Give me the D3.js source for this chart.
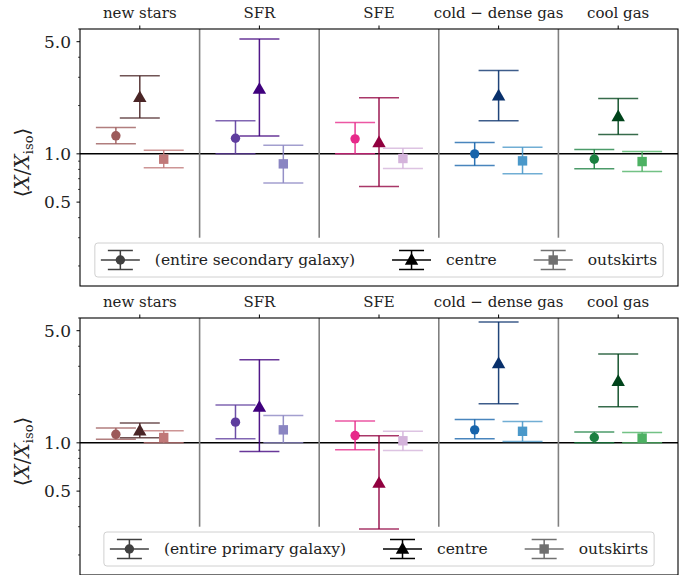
<!DOCTYPE html>
<html>
<head>
<meta charset="utf-8">
<script src="https://cdn.jsdelivr.net/npm/d3@7"></script>
<style>
  body { margin: 0; background: #fff; }
  svg { display: block; }
  text { font-family: "DejaVu Serif", "Liberation Serif", serif; fill: #222; }
</style>
</head>
<body>
<svg id="chart"></svg>
<script>
const width = 691;
const height = 575;

const categories = ['new stars', 'SFR', 'SFE', 'cold \u2212 dense gas', 'cool gas'];
const yTicks = [0.5, 1.0, 5.0];
const yMinor = [0.2, 0.3, 0.4, 0.6, 0.7, 0.8, 0.9, 2, 3, 4, 6];

// [low, value, high] per category -- secondary galaxy (top panel)
const secEntire    = [[1.154, 1.295, 1.46], [1.0, 1.25, 1.61], [1.0, 1.24, 1.57], [0.845, 1.0, 1.177], [0.806, 0.926, 1.064]];
const secCentre    = [[1.67, 2.25, 3.07], [1.29, 2.53, 5.2], [0.625, 1.177, 2.24], [1.61, 2.30, 3.31], [1.32, 1.71, 2.21]];
const secOutskirts = [[0.818, 0.926, 1.054], [0.659, 0.866, 1.13], [0.81, 0.935, 1.085], [0.75, 0.904, 1.10], [0.776, 0.895, 1.034]];

// primary galaxy (bottom panel)
const priEntire    = [[1.054, 1.13, 1.235], [1.06, 1.346, 1.72], [0.905, 1.11, 1.37], [1.06, 1.205, 1.40], [1.0, 1.08, 1.17]];
const priCentre    = [[1.074, 1.19, 1.33], [0.883, 1.67, 3.30], [0.29, 0.561, 1.105], [1.75, 3.12, 5.67], [1.68, 2.42, 3.58]];
const priOutskirts = [[1.0, 1.079, 1.19], [1.0, 1.205, 1.48], [0.895, 1.03, 1.18], [1.02, 1.18, 1.36], [1.0, 1.07, 1.16]];

const entireColors    = ['#9c5a5a', '#5e3c9e', '#e7298a', '#1764ab', '#1a8040'];
const centreColors    = ['#4a2526', '#3f007d', '#91003f', '#08306b', '#00441b'];
const outskirtsColors = ['#c07878', '#8a85c2', '#d4b3db', '#4a98c9', '#4db163'];

const regionNames = ['entire', 'centre', 'outskirts'];
const regionOffset = {entire: -0.2, centre: 0, outskirts: 0.2};
const legendHandleColors = ['#404040', '#000000', '#707070'];

const svg = d3.select('#chart').attr('width', width).attr('height', height);

const left = 80, right = 678, panelH = 257;
const panels = [
  {top: 29, label: '(entire secondary galaxy)', sets: [secEntire, secCentre, secOutskirts]},
  {top: 318, label: '(entire primary galaxy)', sets: [priEntire, priCentre, priOutskirts]}
];
const regionColors = [entireColors, centreColors, outskirtsColors];
const capHalf = 20;

const x = d3.scaleLinear().domain([-0.5, 4.5]).range([left, right]);

function marker(g, shape, cx, cy, color) {
  if (shape === 'entire') {
    g.append('circle').attr('cx', cx).attr('cy', cy).attr('r', 4.7).attr('fill', color);
  } else if (shape === 'centre') {
    g.append('path').attr('d', d3.symbol(d3.symbolTriangle, 78)()).attr('transform', `translate(${cx},${cy + 0.8})`).attr('fill', color);
  } else {
    g.append('rect').attr('x', cx - 4.7).attr('y', cy - 4.7).attr('width', 9.4).attr('height', 9.4).attr('fill', color);
  }
}

panels.forEach(p => {
  const y = d3.scaleLog().domain([0.15, 6.0]).range([p.top + panelH, p.top]);
  const g = svg.append('g');

  // reference line and separators
  g.append('line').attr('x1', left).attr('x2', right).attr('y1', y(1)).attr('y2', y(1))
    .attr('stroke', '#000').attr('stroke-width', 1.5);
  d3.range(4).forEach(i => {
    g.append('line').attr('x1', x(i + 0.5)).attr('x2', x(i + 0.5))
      .attr('y1', y(0.3)).attr('y2', p.top)
      .attr('stroke', '#808080').attr('stroke-width', 1.6);
  });

  // error bars
  p.sets.forEach((set, r) => {
    const name = regionNames[r];
    set.forEach((d, i) => {
      const cx = x(i + regionOffset[name]);
      const col = regionColors[r][i];
      const eb = g.append('g');
      eb.append('line').attr('x1', cx).attr('x2', cx).attr('y1', y(d[0])).attr('y2', y(d[2]))
        .attr('stroke', col).attr('stroke-width', 1.5).attr('opacity', 0.9);
      [d[0], d[2]].forEach(v => {
        eb.append('line').attr('x1', cx - capHalf).attr('x2', cx + capHalf).attr('y1', y(v)).attr('y2', y(v))
          .attr('stroke', col).attr('stroke-width', 1.5).attr('opacity', 0.78);
      });
      marker(eb, name, cx, y(d[1]), col);
    });
  });

  // frame
  g.append('rect').attr('x', left).attr('y', p.top).attr('width', right - left).attr('height', panelH)
    .attr('fill', 'none').attr('stroke', '#000').attr('stroke-width', 1.1);

  // y axis ticks
  yTicks.forEach(t => {
    g.append('line').attr('x1', left - 3.5).attr('x2', left).attr('y1', y(t)).attr('y2', y(t)).attr('stroke', '#000');
    g.append('text').attr('x', left - 9).attr('y', y(t)).attr('dy', '0.36em')
      .attr('text-anchor', 'end').attr('font-size', 17).text(t.toFixed(1));
  });
  yMinor.forEach(t => {
    g.append('line').attr('x1', left - 2).attr('x2', left).attr('y1', y(t)).attr('y2', y(t)).attr('stroke', '#000').attr('stroke-width', 0.7);
  });

  // top category axis
  categories.forEach((c, i) => {
    g.append('line').attr('x1', x(i)).attr('x2', x(i)).attr('y1', p.top - 3.5).attr('y2', p.top).attr('stroke', '#000');
    g.append('text').attr('x', x(i)).attr('y', p.top - 11.5).attr('text-anchor', 'middle')
      .attr('font-size', 15).text(c);
  });

  // y label
  const yl = g.append('text').attr('transform', `translate(29,${p.top + panelH / 2 + 5}) rotate(-90)`)
    .attr('text-anchor', 'middle').attr('font-size', 20);
  yl.append('tspan').text('\u27E8');
  yl.append('tspan').attr('font-style', 'italic').text('X');
  yl.append('tspan').text('/');
  yl.append('tspan').attr('font-style', 'italic').text('X');
  yl.append('tspan').attr('font-size', 13).attr('dy', 4).text('iso');
  yl.append('tspan').attr('dy', -4).text('\u27E9');

  // legend
  const lg = g.append('g');
  const box = lg.append('rect');
  const labels = [p.label, 'centre', 'outskirts'];
  let cursor = 0;
  labels.forEach((lab, k) => {
    const it = lg.append('g').attr('transform', `translate(${cursor},0)`);
    const col = legendHandleColors[k];
    it.append('line').attr('x1', 0).attr('x2', 39).attr('y1', 0).attr('y2', 0).attr('stroke', col).attr('stroke-width', 1.5);
    it.append('line').attr('x1', 19.5).attr('x2', 19.5).attr('y1', -9.5).attr('y2', 9.5).attr('stroke', col).attr('stroke-width', 1.5);
    [-9.5, 9.5].forEach(v => it.append('line').attr('x1', 7).attr('x2', 32).attr('y1', v).attr('y2', v).attr('stroke', col).attr('stroke-width', 1.5));
    marker(it, regionNames[k], 19.5, 0, col);
    const t = it.append('text').attr('x', 54).attr('y', 0).attr('dy', '0.33em').attr('font-size', 15.5).text(lab);
    cursor += 54 + t.node().getComputedTextLength() + 37;
  });
  const contentW = cursor - 37;
  const boxW = contentW + 12;
  const bx = (left + right) / 2 - boxW / 2;
  const by = p.top + panelH - 43;
  box.attr('x', -6).attr('y', -17).attr('width', boxW).attr('height', 34).attr('rx', 3)
    .attr('fill', '#fff').attr('fill-opacity', 0.8).attr('stroke', '#d0d0d0').attr('stroke-width', 1);
  lg.attr('transform', `translate(${bx + 6},${by + 17})`);
});
</script>
</body>
</html>
